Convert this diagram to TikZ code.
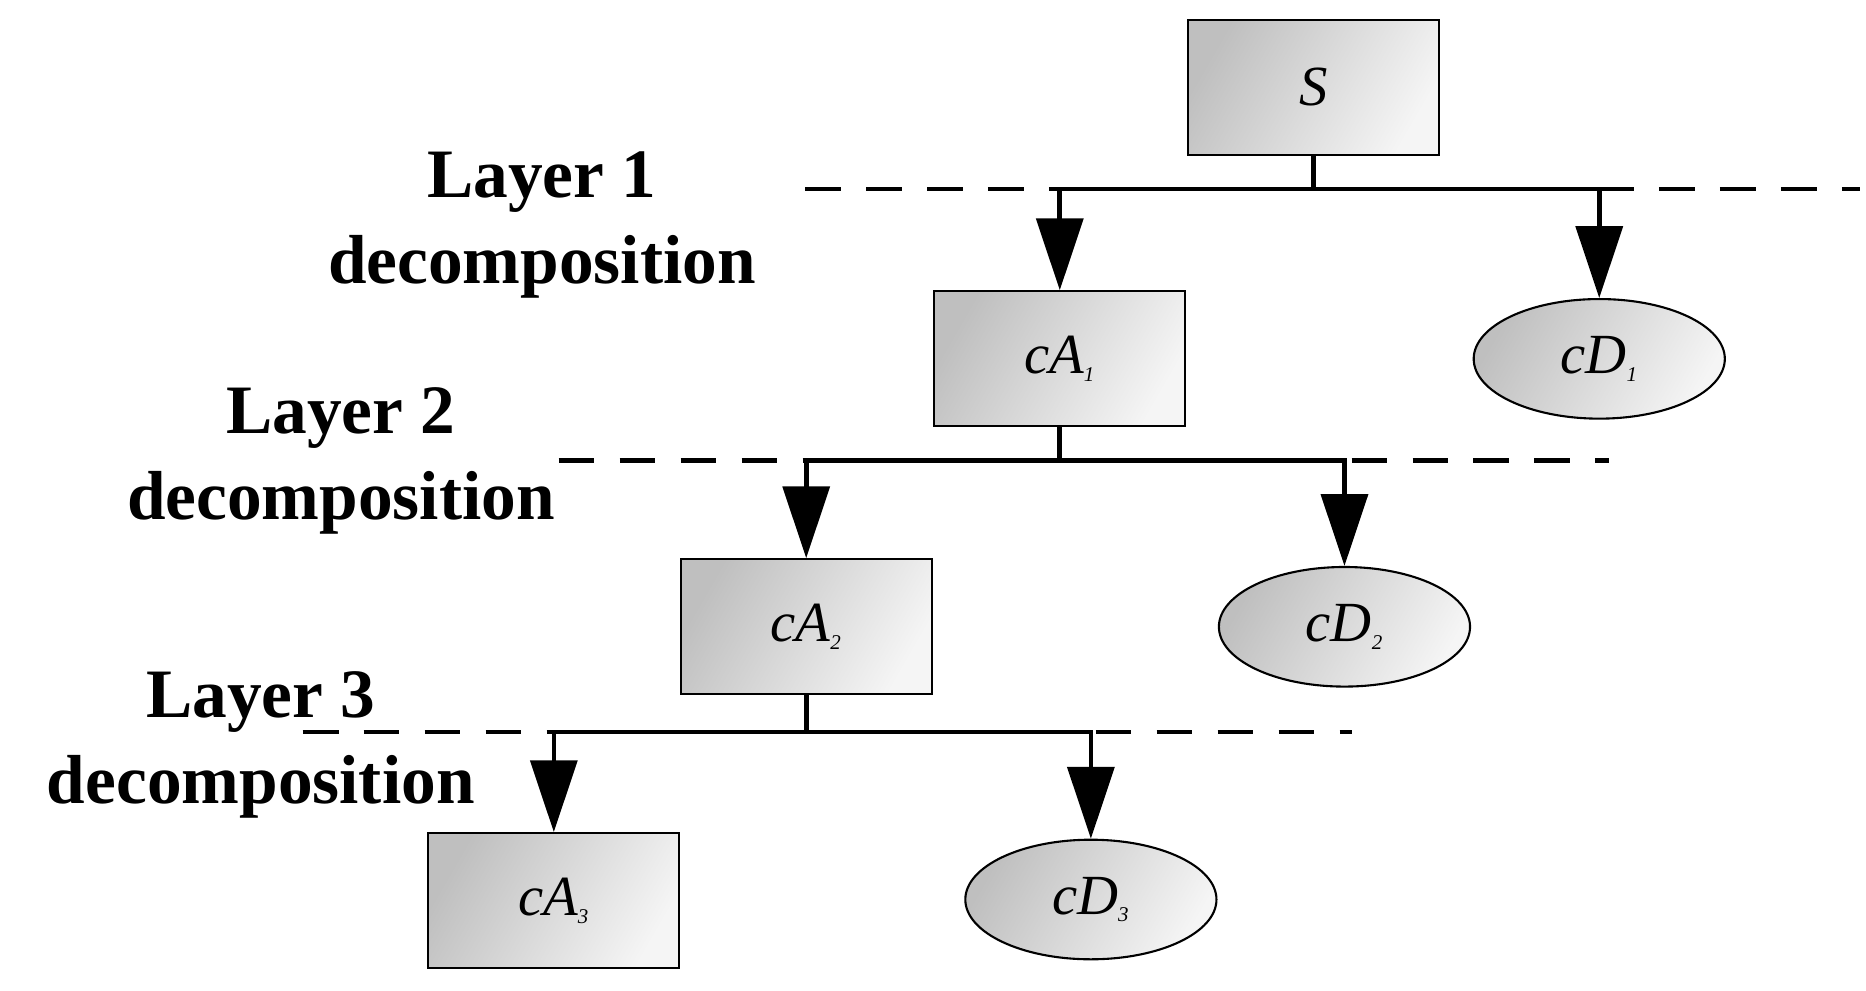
\documentclass[tikz,border=0pt]{standalone}
\usepackage{fontspec}
\setmainfont{Liberation Serif}
\usetikzlibrary{arrows.meta,shapes.geometric,positioning}

\begin{document}
\begin{tikzpicture}[x=0.02cm,y=-0.02cm,>={Triangle[length=1.2cm,width=0.78cm]},
                    line width=2.2pt,
                    coef/.style={draw,line width=1pt,shading=axis,left color=gray!50,right color=gray!8,
                                 shading angle=60,font=\fontsize{27}{30}\selectfont\itshape},
                    approx/.style={coef,rectangle,minimum width=4.2cm,minimum height=2.26cm},
                    detail/.style={coef,ellipse,minimum width=4.2cm,minimum height=2cm,inner sep=0pt},
                    layer/.style={font=\fontsize{33}{41}\selectfont\bfseries,align=center},
                    sep/.style={dash pattern=on 0.6cm off 0.42cm,line width=2.2pt}]
  \useasboundingbox (0,0) rectangle (1560,828);

  \node[approx] (S)   at (1098,73)  {S};
  \node[approx] (cA1) at (886,300)  {cA\textsubscript{\normalsize 1}};
  \node[detail] (cD1) at (1337,300) {cD\textsubscript{\normalsize 1}};
  \node[approx] (cA2) at (674,524)  {cA\textsubscript{\normalsize 2}};
  \node[detail] (cD2) at (1124,524) {cD\textsubscript{\normalsize 2}};
  \node[approx] (cA3) at (463,753)  {cA\textsubscript{\normalsize 3}};
  \node[detail] (cD3) at (912,752)  {cD\textsubscript{\normalsize 3}};

  % layer labels
  \node[layer] (L1) at (453,188) {Layer 1\\decomposition};
  \node[layer] (L2) at (285,385) {Layer 2\\decomposition};
  \node[layer] (L3) at (218,623) {Layer 3\\decomposition};

  % separation lines
  \coordinate (d1a) at (673,158);  \coordinate (d1b) at (1555,158);
  \coordinate (d2a) at (467,385);  \coordinate (d2b) at (1345,385);
  \coordinate (d3a) at (253,612);  \coordinate (d3b) at (1130,612);
  \draw[sep] (d1a) -- (d1b);
  \draw[sep] (d2a) -- (d2b);
  \draw[sep] (d3a) -- (d3b);

  % branches
  \coordinate (j1) at (S.south |- d1a);
  \coordinate (j2) at (cA1.south |- d2a);
  \coordinate (j3) at (cA2.south |- d3a);
  \draw (S.south) -- (j1);
  \draw (cA1.south) -- (j2);
  \draw (cA2.south) -- (j3);
  \draw[->] (j1) -| (cA1.north);
  \draw[->] (j1) -| (cD1.north);
  \draw[->] (j2) -| (cA2.north);
  \draw[->] (j2) -| (cD2.north);
  \draw[->] (j3) -| (cA3.north);
  \draw[->] (j3) -| (cD3.north);
\end{tikzpicture}
\end{document}
